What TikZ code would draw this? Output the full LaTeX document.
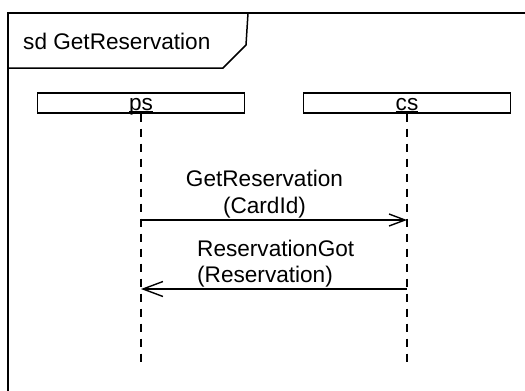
\documentclass[tikz,border=0pt]{standalone}
\usepackage{fontspec}
\setmainfont{Liberation Sans}
\usetikzlibrary{arrows.meta}
% name with a thin rule set just under its baseline
\newcommand\ulname[1]{\setbox0\hbox{#1}\rlap{\rule[-2.5pt]{\wd0}{1.3pt}}\box0}
\begin{document}
\begin{tikzpicture}[x=1pt,y=-1pt,
  every node/.style={font=\fontsize{22.6}{27}\selectfont, inner sep=0pt},
  framestyle/.style={line width=1.5pt},
  lifebox/.style={draw, line width=1.4pt, minimum width=207pt,
    text height=14pt, text depth=0pt, inner ysep=3pt},
  lifeline/.style={line width=1.5pt, dash pattern=on 8pt off 7pt},
  msg/.style={line width=1.4pt},
  txt/.style={anchor=base}]
  \path[use as bounding box] (0,0) rectangle (525,391);
  \clip (0,0) rectangle (525,391);

  % interaction frame and its name tag
  \draw[framestyle] (8,400) -- (8,13) -- (540,13);
  \draw[framestyle] (8,68) -- (223,68) -- (246,45) -- (248,13);
  \node[anchor=base west] (title) at (23,49) {sd GetReservation};

  % lifeline heads
  \node[lifebox] (ps) at (141,103) {\ulname{ps}};
  \node[lifebox] (cs) at (407,103) {\ulname{cs}};

  % lifeline ends
  \coordinate (psEnd) at (141,368);
  \coordinate (csEnd) at (407,368);
  \draw[lifeline] (ps.south) -- (psEnd);
  \draw[lifeline] (cs.south) -- (csEnd);

  % message end points on the lifelines
  \coordinate (m1s) at (141,220);
  \coordinate (m1e) at (407,220);
  \coordinate (m2s) at (407,289);
  \coordinate (m2e) at (141,289);

  \draw[msg, -{Straight Barb[length=16pt,width=12pt,line width=1.4pt]}] (m1s) -- (m1e);
  \draw[msg, -{Straight Barb[length=20pt,width=15pt,line width=1.4pt]}] (m2s) -- (m2e);

  % message labels
  \node[txt] (m1a) at (264.5,186) {GetReservation};
  \node[txt] (m1b) at (264.5,213) {(CardId)};
  \node[anchor=base west] (m2a) at (197,256) {ReservationGot};
  \node[anchor=base west] (m2b) at (197,282) {(Reservation)};
\end{tikzpicture}
\end{document}
